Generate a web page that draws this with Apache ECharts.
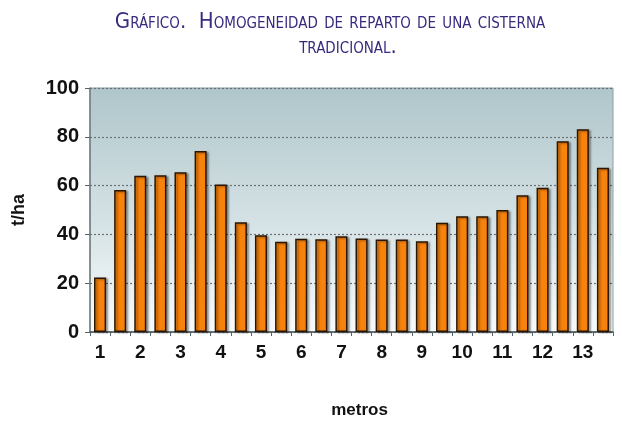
<!DOCTYPE html>
<html>
<head>
<meta charset="utf-8">
<script src="https://cdn.jsdelivr.net/npm/echarts@6/dist/echarts.min.js"></script>
<style>html,body{margin:0;padding:0;background:#fff;}#c{width:622px;height:423px;}</style>
</head>
<body>
<div id="c"></div>
<script>
const titleLines = ['Gráfico.  Homogeneidad de reparto de una cisterna', 'tradicional.'];
const categories = ['1','1.5','2','2.5','3','3.5','4','4.5','5','5.5','6','6.5','7','7.5','8','8.5','9','9.5','10','10.5','11','11.5','12','12.5','13','13.5'];
const values = [22.3,58.2,64,64.2,65.5,74.2,60.5,45,39.7,37,38.2,38,39.2,38.3,37.9,37.9,37.2,44.8,47.4,47.4,50,56,59.1,78.2,83.1,67.3];
const yTicks = {min:0, max:100, interval:20};
const yName = 't/ha';
const xName = 'metros';

const sans = '"Liberation Sans", Arial, sans-serif';
const chart = echarts.init(document.getElementById('c'), null, {renderer:'canvas'});
chart.setOption({
  animation:false,
  backgroundColor:'#ffffff',
  graphic:[
    {type:'text', x:330, y:22, style:{text:titleLines[0], font:'small-caps 500 22px "DejaVu Sans Condensed", sans-serif', fill:'#3a2a7e', align:'center', verticalAlign:'middle'}},
    {type:'text', x:348, y:47, style:{text:titleLines[1], font:'small-caps 500 22px "DejaVu Sans Condensed", sans-serif', fill:'#3a2a7e', align:'center', verticalAlign:'middle'}}
  ],
  grid:{left:90, right:9, top:88, bottom:91, outerBoundsMode:'none', containLabel:false, show:true, borderColor:'#8c9ea2', borderWidth:1,
    backgroundColor:{type:'linear', x:0, y:0, x2:0, y2:1, colorStops:[{offset:0,color:'#afc6ca'},{offset:0.55,color:'#d5e2e5'},{offset:1,color:'#f8fbfc'}]}},
  xAxis:{type:'category', data:categories, boundaryGap:true,
    name:xName, nameLocation:'middle', nameGap:70,
    nameTextStyle:{fontFamily:sans, fontWeight:'bold', fontSize:17, color:'#111', padding:[0,0,0,16]},
    axisLine:{lineStyle:{color:'#4a5658', width:1.5}},
    axisTick:{show:true, interval:0, length:4, lineStyle:{color:'#55626a'}},
    axisLabel:{interval:1, margin:11, fontFamily:sans, fontWeight:'bold', fontSize:19, color:'#111'}
  },
  yAxis:{type:'value', min:yTicks.min, max:yTicks.max, interval:yTicks.interval,
    name:yName, nameLocation:'middle', nameGap:62, nameRotate:90,
    nameTextStyle:{fontFamily:sans, fontWeight:'bold', fontSize:18, color:'#111'},
    axisLine:{show:true, lineStyle:{color:'#6f7c80', width:1.5}},
    axisTick:{show:true, length:5, lineStyle:{color:'#55626a'}},
    axisLabel:{margin:11, fontFamily:sans, fontWeight:'bold', fontSize:20, color:'#111'},
    splitLine:{show:true, lineStyle:{color:'#6a7275', type:[2,2], width:1.2}}
  },
  series:[{type:'bar', data:values, barWidth:'60%',
    itemStyle:{color:'#f7820c', borderColor:'#2b1604', borderWidth:1.5,
      shadowColor:'rgba(0,0,0,0.35)', shadowBlur:2, shadowOffsetX:2, shadowOffsetY:1}}]
});
</script>
</body>
</html>
